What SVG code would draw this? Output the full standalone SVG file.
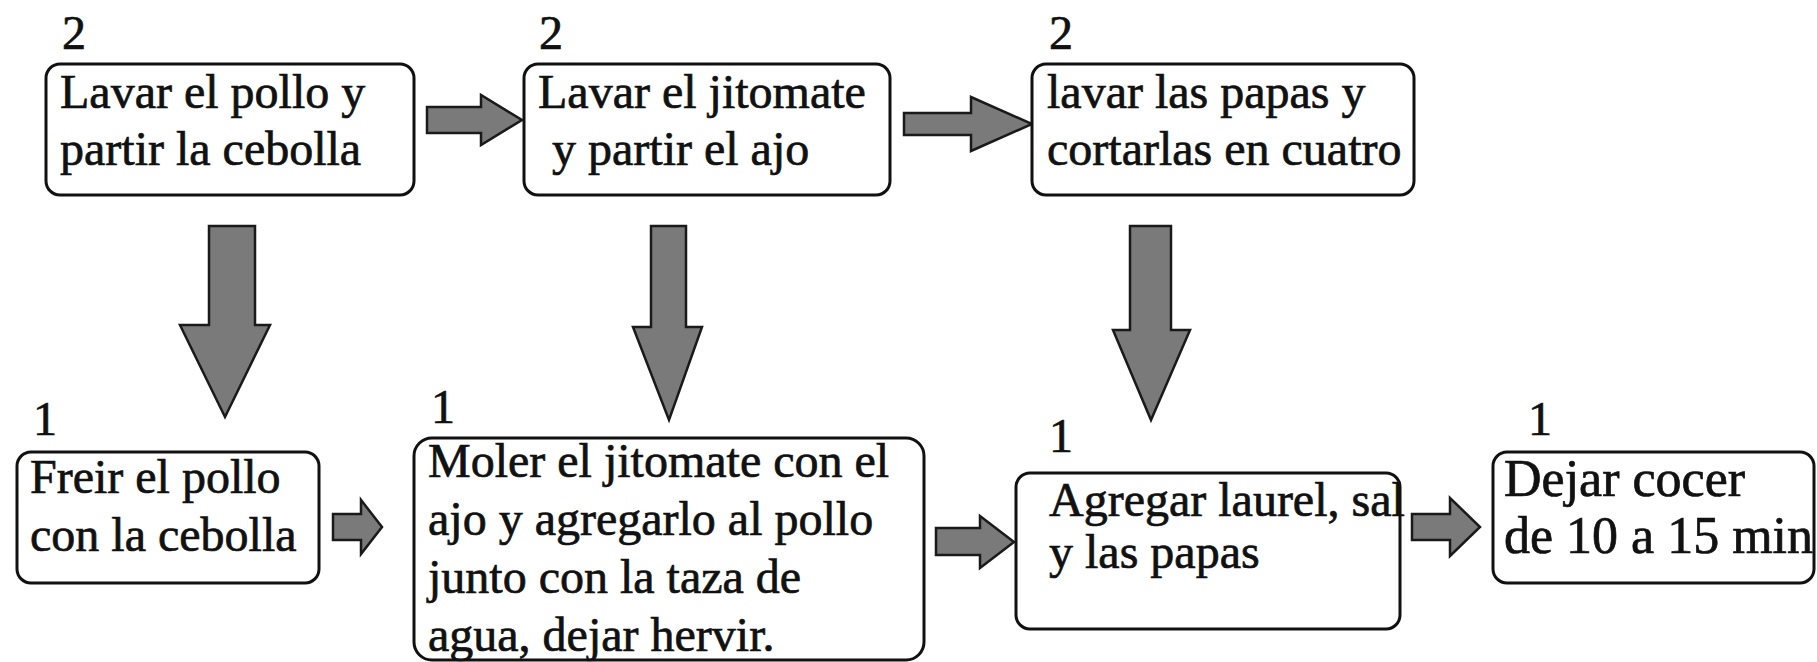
<svg xmlns="http://www.w3.org/2000/svg" width="1817" height="662" viewBox="0 0 1817 662">
<style>
.box{fill:#fff;stroke:#111;stroke-width:3}
.t{font-family:"Liberation Serif","Times New Roman","DejaVu Serif",serif;font-size:48px;fill:#111;stroke:#111;stroke-width:0.7}
.big{font-size:52px}
.arr{fill:#7a7a7a;stroke:#1a1a1a;stroke-width:2.5;stroke-linejoin:miter}
</style>
<rect width="1817" height="662" fill="#fff"/>
<g id="connectors">
<path class="arr" d="M427,107 H481 V95 L522,120 L481,145 V133 H427 Z"/>
<path class="arr" d="M904,113 H971 V97 L1032,124 L971,151 V135 H904 Z"/>
<path class="arr" d="M209,226 H255 V325 H270 L225,417 L180,325 H209 Z"/>
<path class="arr" d="M651,226 H686 V327 H702 L669,420 L633,327 H651 Z"/>
<path class="arr" d="M1130,226 H1171 V330 H1190 L1151,420 L1113,330 H1130 Z"/>
<path class="arr" d="M333,514 H361 V500 L382,527 L361,554 V540 H333 Z"/>
<path class="arr" d="M936,528 H980 V516 L1014,542 L980,568 V555 H936 Z"/>
<path class="arr" d="M1412,514 H1450 V498 L1480,527 L1450,556 V540 H1412 Z"/>
</g>
<g id="n1" font-family="Liberation Serif, serif">
<text class="t" x="62" y="49">2</text>
<rect class="box" x="46" y="64" width="368" height="131" rx="14"/>
<text class="t" x="60" y="108">Lavar el pollo y</text>
<text class="t" x="60" y="165">partir la cebolla</text>
</g>
<g id="n2" font-family="Liberation Serif, serif">
<text class="t" x="539" y="49">2</text>
<rect class="box" x="524" y="64" width="366" height="131" rx="14"/>
<text class="t" x="538" y="108">Lavar el jitomate</text>
<text class="t" x="552" y="165">y partir el ajo</text>
</g>
<g id="n3" font-family="Liberation Serif, serif">
<text class="t" x="1049" y="49">2</text>
<rect class="box" x="1032" y="64" width="382" height="131" rx="14"/>
<text class="t" x="1047" y="108">lavar las papas y</text>
<text class="t" x="1047" y="165">cortarlas en cuatro</text>
</g>
<g id="n4" font-family="Liberation Serif, serif">
<text class="t" x="33" y="435">1</text>
<rect class="box" x="17" y="452" width="302" height="131" rx="14"/>
<text class="t" x="30" y="493">Freir el pollo</text>
<text class="t" x="30" y="551">con la cebolla</text>
</g>
<g id="n5" font-family="Liberation Serif, serif">
<text class="t" x="431" y="423">1</text>
<rect class="box" x="414" y="438" width="510" height="222" rx="18"/>
<text class="t" x="428" y="477">Moler el jitomate con el</text>
<text class="t" x="428" y="535">ajo y agregarlo al pollo</text>
<text class="t" x="428" y="593">junto con la taza de</text>
<text class="t" x="428" y="651">agua, dejar hervir.</text>
</g>
<g id="n6" font-family="Liberation Serif, serif">
<text class="t" x="1049" y="452">1</text>
<rect class="box" x="1016" y="473" width="384" height="156" rx="14"/>
<text class="t" x="1049" y="516">Agregar laurel, sal</text>
<text class="t" x="1049" y="568">y las papas</text>
</g>
<g id="n7" font-family="Liberation Serif, serif">
<text class="t" x="1528" y="435">1</text>
<rect class="box" x="1493" y="452" width="321" height="131" rx="14"/>
<text class="t big" x="1504" y="496">Dejar cocer</text>
<text class="t big" x="1504" y="553">de 10 a 15 min</text>
</g>
</svg>
